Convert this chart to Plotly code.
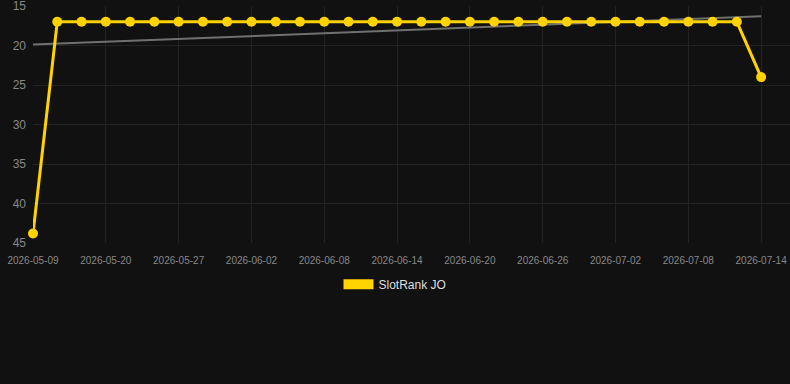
import numpy as np
import plotly.graph_objects as go

dates = ["2026-05-09", "2026-05-13", "2026-05-17", "2026-05-20", "2026-05-22", "2026-05-25",
         "2026-05-27", "2026-05-29", "2026-05-31", "2026-06-02", "2026-06-04", "2026-06-06",
         "2026-06-08", "2026-06-10", "2026-06-12", "2026-06-14", "2026-06-16", "2026-06-18",
         "2026-06-20", "2026-06-22", "2026-06-24", "2026-06-26", "2026-06-28", "2026-06-30",
         "2026-07-02", "2026-07-04", "2026-07-06", "2026-07-08", "2026-07-10", "2026-07-12",
         "2026-07-14"]
ranks = [43.8] + [17] * 29 + [24]
tick_labels = dates[::3]
series_name = "SlotRank JO"

idx = np.arange(len(ranks))
slope, intercept = np.polyfit(idx, ranks, 1)
trend = [float(intercept), float(intercept + slope * idx[-1])]

GOLD = "#FFD200"
fig = go.Figure()
fig.add_trace(go.Scatter(x=[dates[0], dates[-1]], y=trend, mode="lines",
                         line=dict(color="#707070", width=2), showlegend=False, hoverinfo="skip"))
fig.add_trace(go.Scatter(x=dates, y=ranks, mode="lines+markers", name=series_name,
                         line=dict(color=GOLD, width=3), marker=dict(color=GOLD, size=10),
                         showlegend=False, cliponaxis=False))
fig.add_trace(go.Scatter(x=[None], y=[None], mode="lines", name=series_name,
                         line=dict(color=GOLD, width=10), showlegend=True))

fig.update_layout(
    width=790, height=384,
    paper_bgcolor="#111111", plot_bgcolor="#111111",
    margin=dict(l=33, r=0, t=6, b=141),
    font=dict(family="Liberation Sans, Arial, sans-serif", color="#888888"),
    showlegend=True,
    legend=dict(orientation="h", xref="container", x=0.5, xanchor="center",
                yref="container", y=0.26, yanchor="middle",
                font=dict(size=12, color="#dddddd"), bgcolor="rgba(0,0,0,0)"),
)
fig.update_xaxes(type="category", categoryorder="array", categoryarray=dates,
                 range=[0, 31.19], tickmode="array", tickvals=tick_labels, ticktext=tick_labels,
                 showgrid=True, gridcolor="#222222", gridwidth=1, zeroline=False,
                 showline=False, tickfont=dict(size=10, color="#888888"), ticks="", ticklen=0,
                 ticklabelstandoff=10)
fig.update_yaxes(range=[45, 15], tickvals=[15, 20, 25, 30, 35, 40, 45],
                 showgrid=True, gridcolor="#222222", gridwidth=1, zeroline=False,
                 showline=False, tickfont=dict(size=12, color="#888888"), ticks="",
                 ticklabelstandoff=6, ticklabeloverflow="allow")

fig.write_html("out.html")
